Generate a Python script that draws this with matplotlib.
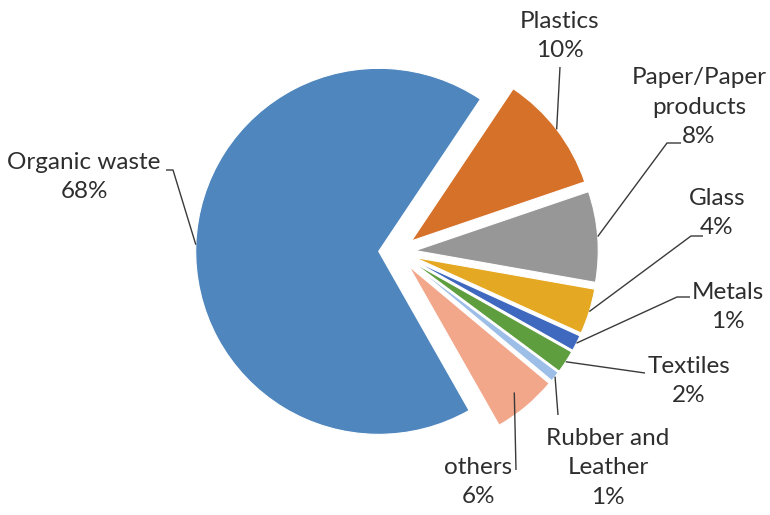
import numpy as np
import matplotlib
matplotlib.use("Agg")
import matplotlib.pyplot as plt

categories = ["Organic waste", "Plastics", "Paper/Paper\nproducts", "Glass",
              "Metals", "Textiles", "Rubber and\nLeather", "others"]
values = [67.6, 10.4, 8.0, 4.0, 1.4, 2.0, 0.9, 5.7]
colors = ["#4F86BE", "#D6712A", "#979797", "#E5A823",
          "#3F69BF", "#5E9E3E", "#9DBEE6", "#F2A68A"]

W, H = 770, 515
PX = 183.0          # pixels per data unit
CX, CY = 397, 252   # pie centre in pixels (from top-left)

fig = plt.figure(figsize=(W / 100, H / 100), dpi=100)
ax = fig.add_axes([0, 0, 1, 1])

wedges, _ = ax.pie(values, colors=colors, startangle=-60.4, counterclock=False,
                   explode=[0.1] * len(values), radius=1.0,
                   wedgeprops=dict(edgecolor="white", linewidth=0.8),
                   center=(0, 0))
ax.set_xlim(-CX / PX, (W - CX) / PX)
ax.set_ylim(-(H - CY) / PX, CY / PX)
ax.set_aspect("equal")
ax.axis("off")


def px2d(x, y):
    return ((x - CX) / PX, (CY - y) / PX)


# label layout (pixels): text centre, leader radius factor, leader path points
layout = [
    ((84, 177), 1.0, [(173, 170), (166, 170)]),
    ((560, 36), 1.0, [(560, 67)]),
    ((699, 107), 1.0, [(667, 143), (681, 143)]),
    ((717, 213), 1.0, [(691, 236), (703, 236)]),
    ((728, 307), 1.0, [(677, 297), (690, 297)]),
    ((689, 381), 1.0, [(645, 373)]),
    ((608, 468), 1.0, [(558, 415)]),
    ((478, 482), 0.9, [(516, 470)]),
]

for w, cat, val, (tc, rf, path) in zip(wedges, categories, values, layout):
    mid = np.deg2rad((w.theta1 + w.theta2) / 2)
    cx, cy = w.center
    a = (cx + rf * w.r * np.cos(mid), cy + rf * w.r * np.sin(mid))
    pts = [a] + [px2d(*p) for p in path]
    xs, ys = zip(*pts)
    ax.plot(xs, ys, color="#3a3a3a", lw=1.0, solid_capstyle="butt")
    tx, ty = px2d(*tc)
    ax.text(tx, ty, f"{cat}\n{val:.0f}%", ha="center", va="center",
            fontsize=17.5, family=["Lato", "DejaVu Sans"], color="#2e2e2e",
            linespacing=1.5)

fig.savefig("out.png", dpi=100)
